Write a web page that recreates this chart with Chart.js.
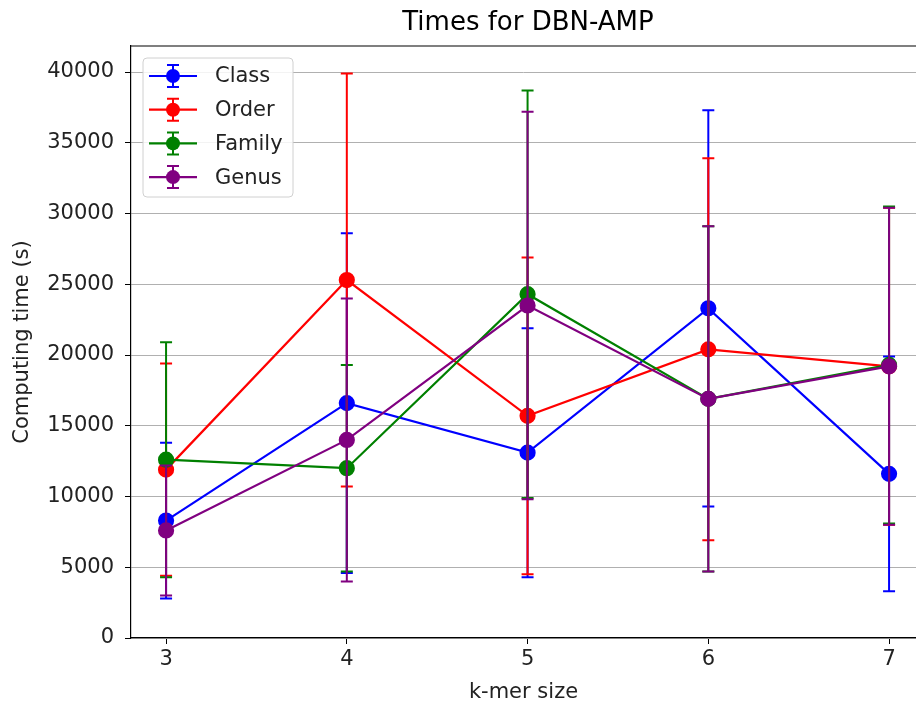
<!DOCTYPE html>
<html>
<head>
<meta charset="utf-8">
<script src="https://cdn.jsdelivr.net/npm/chart.js@4/dist/chart.umd.min.js"></script>
<style>
  html, body { margin: 0; padding: 0; background: #fff; }
  #wrap { width: 916px; height: 707px; }
</style>
</head>
<body>
<div id="wrap"><canvas id="c" width="916" height="707"></canvas></div>
<script>
// k-mer sizes on the x axis
const kmerSizes = [3, 4, 5, 6, 7];
// y axis tick values
const timeTicks = [0, 5000, 10000, 15000, 20000, 25000, 30000, 35000, 40000];

// Mean computing time (s) and its spread, per taxonomic level
const classMean  = [8300, 16600, 13100, 23300, 11600];
const classErr   = [5500, 12000, 8800, 14000, 8300];
const orderMean  = [11900, 25300, 15700, 20400, 19200];
const orderErr   = [7500, 14600, 11200, 13500, 11200];
const familyMean = [12600, 12000, 24300, 16900, 19300];
const familyErr  = [8300, 7300, 14400, 12200, 11200];
const genusMean  = [7600, 14000, 23500, 16900, 19200];
const genusErr   = [4600, 10000, 13700, 12200, 11200];

const seriesNames  = ['Class', 'Order', 'Family', 'Genus'];
const seriesColors = ['#0000ff', '#ff0000', '#008000', '#800080'];
const seriesMeans  = [classMean, orderMean, familyMean, genusMean];
const seriesErrs   = [classErr, orderErr, familyErr, genusErr];

const FONT = "'DejaVu Sans', sans-serif";
const LABEL_SIZE = 21;

const datasets = seriesNames.map((name, i) => ({
  label: name,
  data: kmerSizes.map((k, j) => ({ x: k, y: seriesMeans[i][j] })),
  errors: seriesErrs[i],
  borderColor: seriesColors[i],
  backgroundColor: seriesColors[i],
  pointBackgroundColor: seriesColors[i],
  pointBorderColor: seriesColors[i],
  pointRadius: 7,
  pointHoverRadius: 7,
  borderWidth: 2.2,
  tension: 0,
  fill: false,
  // later series are painted on top
  order: seriesNames.length - 1 - i
}));

// vertical error bars with caps, painted just before each dataset's line
const errorBars = {
  id: 'errorBars',
  beforeDatasetDraw(chart, args) {
    const ds = chart.data.datasets[args.index];
    const xs = chart.scales.x, ys = chart.scales.y;
    const ctx = chart.ctx;
    ctx.save();
    ctx.strokeStyle = ds.borderColor;
    ctx.lineWidth = 2;
    ds.data.forEach((p, j) => {
      const e = ds.errors[j];
      const px = xs.getPixelForValue(p.x);
      const top = ys.getPixelForValue(p.y + e);
      const bot = ys.getPixelForValue(p.y - e);
      ctx.beginPath();
      ctx.moveTo(px, top); ctx.lineTo(px, bot);
      ctx.moveTo(px - 6, top); ctx.lineTo(px + 6, top);
      ctx.moveTo(px - 6, bot); ctx.lineTo(px + 6, bot);
      ctx.stroke();
    });
    ctx.restore();
  }
};

// top frame line, title and legend box
const decorations = {
  id: 'decorations',
  afterDraw(chart) {
    const ctx = chart.ctx;
    const a = chart.chartArea;
    ctx.save();
    ctx.strokeStyle = '#000';
    ctx.lineWidth = 1.2;
    ctx.beginPath();
    ctx.moveTo(a.left, a.top); ctx.lineTo(a.right, a.top);
    ctx.stroke();

    ctx.fillStyle = '#000';
    ctx.font = '26px ' + FONT;
    ctx.textAlign = 'center';
    ctx.textBaseline = 'middle';
    ctx.fillText('Times for DBN-AMP', 528, 23);

    // legend
    const bx = a.left + 12, by = a.top + 12, bw = 150, bh = 139;
    ctx.beginPath();
    ctx.roundRect(bx, by, bw, bh, 4);
    ctx.fillStyle = 'rgba(255,255,255,0.85)';
    ctx.fill();
    ctx.strokeStyle = '#d0d0d0';
    ctx.lineWidth = 1;
    ctx.stroke();
    ctx.font = LABEL_SIZE + 'px ' + FONT;
    ctx.textAlign = 'left';
    chart.data.datasets.forEach((ds, i) => {
      const y = by + 18 + i * 33.7;
      const x0 = bx + 6, x1 = bx + 54, xm = (x0 + x1) / 2;
      ctx.strokeStyle = ds.borderColor;
      ctx.lineWidth = 2.2;
      ctx.beginPath(); ctx.moveTo(x0, y); ctx.lineTo(x1, y); ctx.stroke();
      ctx.lineWidth = 2;
      ctx.beginPath();
      ctx.moveTo(xm, y - 11); ctx.lineTo(xm, y + 11);
      ctx.moveTo(xm - 6, y - 11); ctx.lineTo(xm + 6, y - 11);
      ctx.moveTo(xm - 6, y + 11); ctx.lineTo(xm + 6, y + 11);
      ctx.stroke();
      ctx.fillStyle = ds.borderColor;
      ctx.beginPath(); ctx.arc(xm, y, 7, 0, Math.PI * 2); ctx.fill();
      ctx.fillStyle = '#222';
      ctx.fillText(ds.label, bx + 72, y + 1);
    });
    ctx.restore();
  }
};

new Chart(document.getElementById('c'), {
  type: 'line',
  data: { datasets },
  plugins: [errorBars, decorations],
  options: {
    responsive: false,
    animation: false,
    events: [],
    layout: { autoPadding: false, padding: { top: 46, right: 0, left: 0, bottom: 0 } },
    plugins: {
      legend: { display: false },
      title: { display: false },
      tooltip: { enabled: false }
    },
    scales: {
      x: {
        type: 'linear',
        min: 2.806,
        max: 7.149,
        afterFit(scale) { scale.height = 69; scale.paddingRight = 0; scale.paddingLeft = 0; },
        afterBuildTicks(scale) { scale.ticks = kmerSizes.map(v => ({ value: v })); },
        ticks: {
          color: '#222',
          font: { family: FONT, size: LABEL_SIZE },
          padding: 3,
          maxRotation: 0,
          callback: v => String(v)
        },
        grid: { drawOnChartArea: false, drawTicks: true, tickLength: 6, tickColor: '#000' },
        border: { color: '#000', width: 1.2 },
        title: {
          display: true,
          text: 'k-mer size',
          color: '#222',
          font: { family: FONT, size: LABEL_SIZE },
          padding: { top: 2, bottom: 2 }
        }
      },
      y: {
        type: 'linear',
        min: 0,
        max: 41840,
        afterFit(scale) { scale.width = 131; },
        afterBuildTicks(scale) { scale.ticks = timeTicks.map(v => ({ value: v })); },
        ticks: {
          color: '#222',
          font: { family: FONT, size: LABEL_SIZE },
          padding: 11,
          callback: v => String(v)
        },
        grid: { color: '#b0b0b0', lineWidth: 1, drawTicks: true, tickLength: 6, tickColor: '#000' },
        border: { color: '#000', width: 1.2 },
        title: {
          display: true,
          text: 'Computing time (s)',
          color: '#222',
          font: { family: FONT, size: LABEL_SIZE },
          padding: { top: 10, bottom: 0 }
        }
      }
    }
  }
});
</script>
</body>
</html>
